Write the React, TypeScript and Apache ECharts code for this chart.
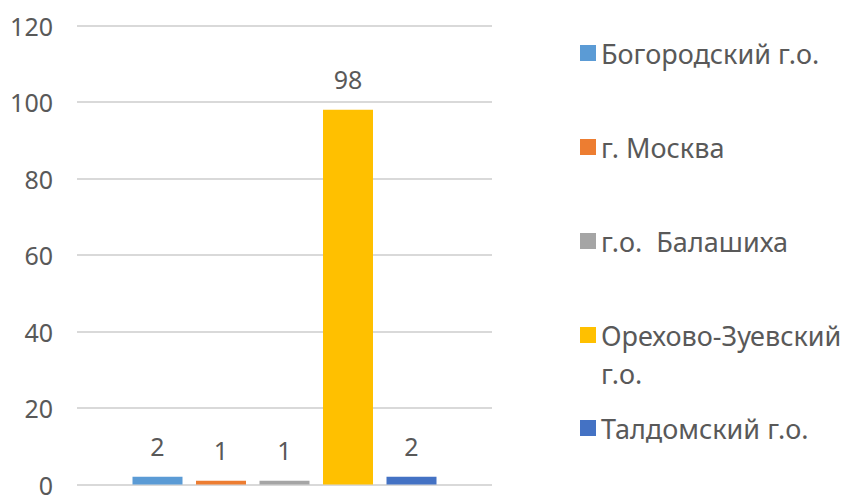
import React, { useEffect, useRef } from "react";
import * as echarts from "echarts";

const categories = [""];
const seriesNames = [
  "Богородский г.о.",
  "г. Москва",
  "г.о.  Балашиха",
  "Орехово-Зуевский г.о.",
  "Талдомский г.о.",
];
const seriesValues = [2, 1, 1, 98, 2];
const seriesColors = ["#5B9BD5", "#ED7D31", "#A5A5A5", "#FFC000", "#4472C4"];
const yTickLabels = ["0", "20", "40", "60", "80", "100", "120"];

const FONT = "'Noto Sans', 'DejaVu Sans', sans-serif";
const TEXT_COLOR = "#595959";
const LEGEND_LINE = 38;
const legendCenters = [53, 147, 241, 335, 428];
const WRAPPED = "Орехово-Зуевский г.о.";

export default function App() {
  const ref = useRef<HTMLDivElement>(null);
  useEffect(() => {
    if (!ref.current) return;
    const chart = echarts.init(ref.current, null, { renderer: "svg" });
    const legends = seriesNames.map((name, i) => {
      const wrapped = name === WRAPPED;
      return {
        show: true,
        orient: "vertical",
        left: 580,
        top: wrapped ? legendCenters[i] - LEGEND_LINE * 1.5 : legendCenters[i] - LEGEND_LINE / 2,
        padding: 0,
        itemWidth: 16,
        itemHeight: 16,
        icon: "rect",
        data: [name],
        formatter: (n: string) => (n === WRAPPED ? "\nОрехово-Зуевский\nг.о." : n),
        textStyle: {
          color: TEXT_COLOR,
          fontFamily: FONT,
          fontSize: 27,
          lineHeight: LEGEND_LINE,
        },
      };
    });
    chart.setOption({
      animation: false,
      textStyle: { fontFamily: FONT },
      grid: { left: 77, right: 355, top: 25.5, bottom: 6.5, containLabel: false },
      legend: legends,
      xAxis: {
        type: "category",
        data: categories,
        axisLine: { show: false },
        axisTick: { show: false },
        axisLabel: { show: false },
        splitLine: { show: false },
      },
      yAxis: {
        type: "value",
        min: 0,
        max: 120,
        interval: 20,
        axisLine: { show: false },
        axisTick: { show: false },
        axisLabel: {
          color: TEXT_COLOR,
          fontFamily: FONT,
          fontSize: 25,
          margin: 24,
          formatter: (v: number) => yTickLabels[Math.round(v / 20)] ?? String(v),
        },
        splitLine: { show: true, lineStyle: { color: "#D9D9D9", width: 2 } },
      },
      series: seriesNames.map((name, i) => ({
        type: "bar",
        name,
        data: [seriesValues[i]],
        barWidth: 50,
        barGap: "27%",
        itemStyle: { color: seriesColors[i] },
        label: {
          show: true,
          position: "top",
          distance: 18,
          color: TEXT_COLOR,
          fontFamily: FONT,
          fontSize: 25,
        },
      })),
    });
    return () => chart.dispose();
  }, []);
  return (
    <div
      ref={ref}
      style={{ position: "fixed", left: 0, top: 0, width: 847, height: 497, background: "#fff" }}
    />
  );
}
